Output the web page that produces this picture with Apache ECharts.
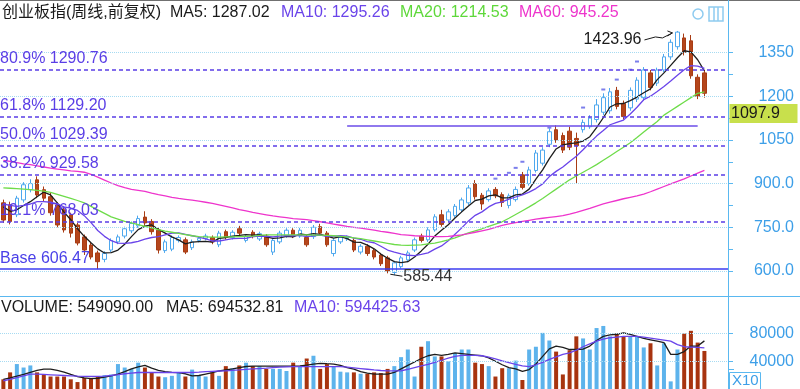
<!DOCTYPE html>
<html><head><meta charset="utf-8">
<script src="https://cdn.jsdelivr.net/npm/echarts@6/dist/echarts.min.js"></script>
<style>html,body{margin:0;padding:0;background:#fff}#c{width:800px;height:389px}</style>
</head><body><div id="c"></div>
<script>
// ---------- DATA (weekly candles) ----------
const opens = [834,827,793,844,879,913,879,855,827,810,793,758,717,689,662,640,672,700,720,738,
755,785,770,740,670,675,705,707,680,705,712,715,690,735,715,745,705,733,710,720,
665,700,720,740,720,715,718,752,730,660,700,710,705,665,685,670,655,645,595,615,
638,672,720,707,741,793,775,790,810,834,900,860,845,880,862,825,845,930,900,945,
970,1035,1085,1065,1080,1055,1085,1095,1120,1145,1150,1220,1175,1160,1190,1195,1280,1245,1290,1335,
1370,1400,1390,1265,1280];
const closes = [775,770,850,896,900,861,850,800,758,741,730,696,672,648,632,660,705,717,745,763,
780,765,735,672,700,715,715,665,700,712,720,700,730,715,733,730,718,718,728,690,
705,730,740,720,740,690,750,730,690,705,715,715,672,685,660,648,625,600,628,645,
662,707,705,741,786,760,803,822,844,885,855,830,875,858,835,858,880,887,947,1005,
1015,1078,1050,1015,1025,1030,1110,1125,1170,1195,1215,1165,1130,1220,1255,1290,1230,1290,1335,1385,
1420,1350,1270,1200,1210];
const lows = [765,760,785,835,870,850,840,790,750,732,715,688,655,640,606.47,630,665,692,712,730,
748,755,725,660,662,668,698,658,672,698,705,692,682,708,708,722,698,712,703,683,
655,693,714,713,714,683,710,723,683,650,693,703,665,657,652,640,617,592,585.44,608,
630,665,698,700,735,752,768,783,802,826,845,810,838,850,820,815,838,880,893,938,
962,1025,1040,1005,1015,900,1075,1088,1110,1135,1140,1155,1120,1150,1180,1185,1220,1235,1282,1325,
1360,1340,1260,1190,1195];
const highs = [845,838,858,905,915,925,890,868,835,818,800,765,725,698,670,668,712,725,752,770,
790,805,778,748,708,722,722,715,708,720,728,722,738,742,740,755,726,740,735,727,
712,738,747,747,748,722,758,762,737,712,722,722,712,692,692,677,662,652,635,652,
670,715,728,750,795,810,812,830,852,895,912,868,884,888,870,866,890,940,958,1015,
1025,1090,1100,1075,1095,1075,1120,1135,1190,1210,1228,1232,1185,1230,1265,1300,1290,1298,1345,1395,
1423.96,1415,1410,1275,1290];
const ma5 = [820,805,810,825,838,855,871,861,834,802,776,745,719,697,676,662,663,672,692,718,
742,754,758,743,730,717,707,693,699,701,702,699,712,715,720,722,725,723,725,717,
712,714,719,717,727,724,728,726,720,713,718,711,699,698,689,676,658,644,632,629,
632,648,669,692,720,740,759,782,803,823,842,847,858,861,851,851,861,864,881,915,
947,986,1019,1033,1037,1040,1046,1061,1092,1126,1163,1174,1175,1185,1197,1212,1225,1257,1280,1306,
1332,1356,1352,1325,1287.02];
const ma10 = [830,825,822,825,830,838,838,836,830,820,816,808,790,766,739,719,704,696,695,697,
702,709,715,718,724,730,731,726,721,716,710,703,703,707,711,712,712,718,720,719,
717,720,721,721,722,718,721,723,719,720,721,720,713,709,701,697,685,672,665,659,
654,653,657,662,675,686,704,726,748,772,791,803,820,832,837,847,854,861,871,883,
899,924,942,957,976,994,1016,1040,1063,1082,1102,1110,1118,1139,1162,1188,1200,1216,1233,1252,
1272,1291,1305,1303,1295.26];
const ma20 = [885,884,883,881,879,877,874,870,863,856,849,842,834,822,810,798,786,778,770,765,
759,753,748,742,737,733,729,725,721,718,717,716,716,717,717,718,719,720,722,724,
724,724,724,724,724,724,723,723,722,721,719,717,714,711,707,703,699,695,691,689,
688,689,690,693,696,701,707,714,722,731,738,745,753,761,769,781,794,807,820,834,
849,865,881,897,913,926,939,952,965,980,995,1010,1025,1040,1058,1077,1095,1113,1135,1150,
1165,1180,1195,1210,1214.53];
const ma60 = [980,976,972,968,965,961,957,953,950,947,944,942,939,932,922,912,902,893,886,880,
877,873,867,862,858,853,849,846,843,840,836,832,827,822,817,811,806,801,797,793,
789,786,783,780,778,776,773,769,765,761,757,753,750,747,744,740,736,733,729,725,
723,721,720,719,718,718,719,721,724,728,733,738,743,750,757,762,766,770,774,778,
781,784,787,790,795,801,808,815,823,830,836,842,848,853,858,864,872,881,890,899,
908,916,926,936,945.25];
// volume in units of 10 shares (axis shows "X10")
const volumes = [14000,24000,36000,31000,34000,24000,21000,18000,18000,18000,14000,10000,16000,16000,18000,20000,21000,36000,31000,29000,
38000,31000,24000,18000,17000,19000,24000,18000,28000,19000,18000,24000,19000,33000,30000,34000,38000,33000,33000,29000,
29000,29000,26000,38000,32000,44000,48000,29000,36000,33000,25000,24000,24000,22000,22000,24000,23000,29000,33000,
46000,57000,18000,61000,69000,47000,47000,40000,52000,57000,57000,38000,36000,33000,18000,30000,30000,41000,13000,57000,61000,
81000,70000,54000,21000,56000,76000,73000,57000,88000,91000,76000,80000,76000,76000,76000,60000,66000,34000,66000,11000,
57000,80000,84000,67000,54909];
const volMa5 = [14000,16000,18500,21000,24000,27000,28600,28600,27000,24500,21000,18000,16000,15000,15500,17000,19000,21500,25000,29000,
32000,34000,30000,27000,25000,24000,23500,22000,19000,19500,21500,23500,26000,27500,29000,31000,32500,33000,33000,33000,
33000,33000,33000,33000,33300,34500,36000,37100,36500,36000,34000,31000,28600,25000,23000,21500,21500,21500,24000,29000,
34000,39000,44000,48000,50000,48500,50000,52000,51000,50000,49000,48000,45000,40000,35000,31000,29000,25500,28000,36000,
47000,58000,62000,60000,57000,57000,57500,62000,70000,76000,78000,79000,81000,79000,76000,73000,71000,69000,67000,50000,
50000,54000,62000,62000,69453.28];
const volMa10 = [11900,14000,16500,19000,21400,21400,21000,20500,20000,19500,19000,18500,18300,18100,18100,18500,19500,20700,22000,23000,
23800,23800,23800,23800,23800,23800,23800,23800,23800,24300,25000,25500,26000,26200,26800,27500,28300,29000,29500,30000,
31000,31500,32000,32400,32400,32400,32400,32400,32400,32400,32400,31500,30500,29500,28500,27500,26700,26200,26200,26200,
28500,31000,33500,35700,38500,41500,44500,47000,48500,48500,48500,48000,46000,43500,40500,38000,35500,33500,32400,35000,
38500,42800,46500,50000,52000,56000,61000,65000,69000,72000,74000,75000,76000,76000,76000,75000,73500,72000,70500,69000,
64000,61000,60500,60000,59442.56];
// small dash markers above the rally (index, value)
const dashIdx = [73,75,76,77,81,86,89,91,93,94];
const dashVal = [917,937,954,975,1092,1161,1223,1257,1291,1319];
const priceTicks = [600,750,900,1050,1200,1350];
const priceMinor = [675,825,975,1125,1275];
const volTicks = [40000,80000];
const fibLabels = ['80.9% 1290.76','61.8% 1129.20','50.0% 1029.39','38.2% 929.58','19.1% 768.03'];
const fibValues = [1290.76,1129.20,1029.39,929.58,768.03];
const baseLabel = 'Base 606.47';
const baseValue = 606.47;
const peakValue = 1423.96, peakIdx = 100;
const lowValue = 585.44, lowIdx = 58;
const currentValue = 1097.9;
const currentFrom = 51, currentTo = 103;
const headerTitle = '创业板指(周线,前复权)';
const headerMA = ['MA5: 1287.02','MA10: 1295.26','MA20: 1214.53','MA60: 945.25'];
const volHeader = ['VOLUME: 549090.00','MA5: 694532.81','MA10: 594425.63'];
const emptySlots = 3;

// ---------- CHART ----------
const FONT = "'Liberation Sans', 'Noto Sans CJK SC', Arial, sans-serif";
const UP = '#4ea8ee', DOWN = '#a83c14';
const C_MA5 = '#1e1e1e', C_MA10 = '#6a44ea', C_MA20 = '#6edc4a', C_MA60 = '#ee34cc';
const FIB = '#5a3ee6';
const AX = '#5ab8f0', AXT = '#3d9fe8';

const cats = [];
for (let i = 0; i < closes.length + emptySlots; i++) cats.push(i < closes.length ? 'W' + (i + 1) : '');
const candles = closes.map((c, i) => [opens[i], c, lows[i], highs[i]]);
const volBars = volumes.map((v, i) => ({value: v, itemStyle: {color: closes[i] >= opens[i] ? '#5db3ec' : '#a8340f'}}));

const gridML = priceTicks.map(v => ({yAxis: v, lineStyle: {color: '#a6dbf2', type: 'dotted', width: 1}, label: {show: false}}));
const fibML = fibLabels.map((t, k) => ({
  yAxis: fibValues[k], name: t,
  lineStyle: {color: FIB, type: [4, 3], width: 1.5},
  label: {show: true, formatter: '{b}', position: 'insideStartTop', color: FIB, fontSize: 16, fontFamily: FONT, distance: [0, 3], padding: 0}
}));
const baseML = {yAxis: baseValue, name: baseLabel, lineStyle: {color: '#3c3cf0', type: 'solid', width: 1.5},
  label: {show: true, formatter: '{b}', position: 'insideStartTop', color: '#4a40e8', fontSize: 16, fontFamily: FONT, distance: [0, 3], padding: 0}};
const curML = [{coord: [currentFrom, currentValue], lineStyle: {color: '#6b4ce8', type: 'solid', width: 1.5}, label: {show: false}}, {coord: [currentTo, currentValue]}];

const lineS = (name, data, color, xi, yi) => ({name, type: 'line', data, xAxisIndex: xi, yAxisIndex: yi, symbol: 'none',
  lineStyle: {color, width: 1.3}, silent: true, z: 4});

const option = {
  animation: false,
  backgroundColor: '#ffffff',
  grid: [
    {left: 0, right: 72, top: 8.8, height: 305.9},
    {left: 0, right: 72, top: 297, height: 93}
  ],
  xAxis: [
    {type: 'category', data: cats, gridIndex: 0, boundaryGap: true, show: false},
    {type: 'category', data: cats, gridIndex: 1, boundaryGap: true, show: false}
  ],
  yAxis: [
    {type: 'value', gridIndex: 0, position: 'right', min: 450, max: 1500, interval: 150, scale: false,
      axisLine: {show: false}, splitLine: {show: false},
      axisTick: {show: true, length: 5, lineStyle: {color: AX}, customValues: priceTicks.concat(priceMinor)},
      axisLabel: {customValues: priceTicks, color: AXT, fontSize: 16, fontFamily: FONT, align: 'right', margin: 66,
        formatter: v => (v < 600 || v > 1350) ? '' : (v >= 1000 ? String(v) : v.toFixed(1))}},
    {type: 'value', gridIndex: 1, position: 'right', min: 0, max: 132800, interval: 40000,
      axisLine: {show: false}, splitLine: {show: false},
      axisTick: {show: true, length: 5, lineStyle: {color: AX}, customValues: volTicks},
      axisLabel: {customValues: volTicks, color: AXT, fontSize: 16, fontFamily: FONT, align: 'right', margin: 66,
        formatter: v => volTicks.indexOf(v) >= 0 ? String(v) : ''}}
  ],
  series: [
    {name: 'K', type: 'candlestick', data: candles, xAxisIndex: 0, yAxisIndex: 0, barWidth: 4,
      itemStyle: {color: '#ffffff', color0: '#b5461c', borderColor: UP, borderColor0: DOWN, borderWidth: 1},
      markLine: {silent: true, symbol: ['none', 'none'], animation: false,
        data: gridML.concat(fibML, [baseML, curML])}, z: 3},
    lineS('MA5', ma5, C_MA5, 0, 0),
    lineS('MA10', ma10, C_MA10, 0, 0),
    lineS('MA20', ma20, C_MA20, 0, 0),
    lineS('MA60', ma60, C_MA60, 0, 0),
    {name: 'dash', type: 'scatter', xAxisIndex: 0, yAxisIndex: 0, symbol: 'rect', symbolSize: [4, 2],
      itemStyle: {color: '#5a5ee6'}, data: dashIdx.map((d, k) => [d, dashVal[k]]), silent: true},
    {name: 'VOL', type: 'bar', data: volBars, xAxisIndex: 1, yAxisIndex: 1, barWidth: 4,
      markLine: {silent: true, symbol: ['none', 'none'], animation: false,
        data: volTicks.map(v => ({yAxis: v, lineStyle: {color: '#a6dbf2', type: 'dotted', width: 1}, label: {show: false}}))}},
    lineS('VMA5', volMa5, C_MA5, 1, 1),
    lineS('VMA10', volMa10, C_MA10, 1, 1)
  ]
};

const chart = echarts.init(document.getElementById('c'));
chart.setOption(option);

const txt = (text, x, y, fill, extra) => Object.assign({type: 'text', silent: true, z: 50,
  style: Object.assign({text, x, y, fill, fontSize: 16, fontFamily: FONT, verticalAlign: 'middle'}, extra || {})});
const ln = (x1, y1, x2, y2, stroke, w) => ({type: 'line', silent: true, z: 40, shape: {x1, y1, x2, y2}, style: {stroke, lineWidth: w || 1}});

const pk = chart.convertToPixel({xAxisIndex: 0, yAxisIndex: 0}, [peakIdx, peakValue]);
const lw = chart.convertToPixel({xAxisIndex: 0, yAxisIndex: 0}, [lowIdx, lowValue]);
const cy = chart.convertToPixel({yAxisIndex: 0}, currentValue);

const graphics = [
  ln(0, 0.5, 800, 0.5, '#707070', 1),
  ln(728.5, 0, 728.5, 389, AX, 1),
  ln(0, 296.5, 800, 296.5, AX, 1),
  txt(headerTitle, 2, 13, '#1a1a1a'),
  txt(headerMA[0], 170, 13, '#1a1a1a'),
  txt(headerMA[1], 281, 13, C_MA10),
  txt(headerMA[2], 400, 13, '#5ed83a'),
  txt(headerMA[3], 519, 13, C_MA60),
  txt(volHeader[0], 1, 308, '#1a1a1a'),
  txt(volHeader[1], 166, 308, '#1a1a1a'),
  txt(volHeader[2], 294, 308, C_MA10),
  {type: 'circle', silent: true, z: 50, shape: {cx: 698, cy: 14, r: 5}, style: {fill: 'none', stroke: '#8ecbf0', lineWidth: 1.5}},
  {type: 'rect', silent: true, z: 50, shape: {x: 709, y: 7, width: 14, height: 14}, style: {fill: 'none', stroke: '#8ecbf0', lineWidth: 1.5}},
  ln(714, 7, 714, 21, '#8ecbf0', 1.5),
  ln(718, 7, 718, 21, '#8ecbf0', 1.5),
  {type: 'rect', silent: true, z: 50, shape: {x: 729.5, y: cy - 22, width: 68, height: 19}, style: {fill: '#c8e04c', stroke: 'none'}},
  txt(String(currentValue), 731, cy - 12.5, '#1a1a1a'),
  {type: 'rect', silent: true, z: 50, shape: {x: 729.5, y: 372.5, width: 31, height: 17}, style: {fill: 'none', stroke: AX, lineWidth: 1}},
  txt('X10', 732, 381, AXT, {fontSize: 15}),
  ln(728.5, 369.5, 734, 369.5, AX, 1),
  txt(String(peakValue.toFixed(2)), pk[0] - 36, pk[1] + 9, '#1a1a1a', {align: 'right'}),
  {type: 'polyline', silent: true, z: 50, shape: {points: [[pk[0] - 33, pk[1] + 9], [pk[0] - 22, pk[1] + 6], [pk[0] - 15, pk[1] + 7], [pk[0] - 5, pk[1] + 2]]}, style: {fill: 'none', stroke: '#1a1a1a', lineWidth: 1}},
  {type: 'polyline', silent: true, z: 50, shape: {points: [[pk[0] - 10, pk[1]], [pk[0] - 5, pk[1] + 2], [pk[0] - 10, pk[1] + 5]]}, style: {fill: 'none', stroke: '#1a1a1a', lineWidth: 1}},
  ln(lw[0] - 4, lw[1] - 1, lw[0] + 8, lw[1] + 1, '#1a1a1a', 1),
  txt(String(lowValue.toFixed(2)), lw[0] + 9, lw[1] + 1, '#333333')
];
chart.setOption({graphic: graphics});
</script>
</body></html>
